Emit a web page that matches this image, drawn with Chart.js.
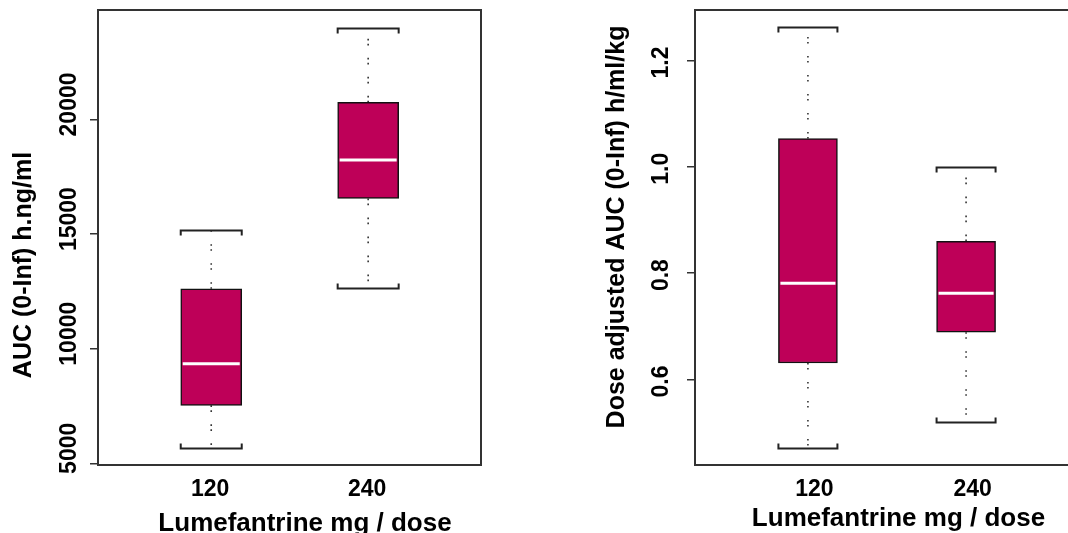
<!DOCTYPE html>
<html><head><meta charset="utf-8">
<script src="https://cdn.jsdelivr.net/npm/chart.js@4"></script>
<style>
html,body{margin:0;padding:0;background:#fff;overflow:hidden;width:1068px;height:533px;position:relative;}
canvas{position:absolute;top:0;}
#c1{left:0px;}
#c2{left:534px;}
</style></head><body>
<canvas id="c1" width="534" height="533"></canvas>
<canvas id="c2" width="560" height="533"></canvas>
<script>
// ---- data ----
const categories = ['120', '240'];

// Left panel: AUC (0-Inf) h.ng/ml
const aucMin    = [5668, 12657];
const aucQ1     = [7528, 16551];
const aucMedian = [9339, 18232];
const aucQ3     = [12613, 20746];
const aucMax    = [15185, 24003];
const aucTicks  = [5000, 10000, 15000, 20000];
const aucTickLabels = ['5000', '10000', '15000', '20000'];

// Right panel: Dose adjusted AUC (0-Inf) h/ml/kg
const adjMin    = [0.471, 0.520];
const adjQ1     = [0.631, 0.689];
const adjMedian = [0.781, 0.762];
const adjQ3     = [1.053, 0.860];
const adjMax    = [1.262, 1.000];
const adjTicks  = [0.6, 0.8, 1.0, 1.2];
const adjTickLabels = ['0.6', '0.8', '1.0', '1.2'];

const xTitle = 'Lumefantrine mg / dose';
const FONT = "'Liberation Sans', Arial, sans-serif";

const boxPlugin = {
  id: 'boxExtras',
  beforeDatasetsDraw(chart, args, o) {
    const {ctx, scales: {x, y}} = chart;
    const half = o.boxWidth / 2;
    ctx.save();
    o.min.forEach((mn, i) => {
      const xc = x.getPixelForValue(i + 1);
      ctx.strokeStyle = '#333';
      ctx.lineWidth = 1.6;
      ctx.setLineDash([1.6, 3.4, 1.6, 12.4]);
      ctx.beginPath();
      ctx.moveTo(xc, y.getPixelForValue(o.q3[i]));
      ctx.lineTo(xc, y.getPixelForValue(o.max[i]));
      ctx.stroke();
      ctx.beginPath();
      ctx.moveTo(xc, y.getPixelForValue(o.q1[i]));
      ctx.lineTo(xc, y.getPixelForValue(mn));
      ctx.stroke();
      ctx.setLineDash([]);
      const yt = Math.round(y.getPixelForValue(o.max[i])) + 0.5;
      const yb = Math.round(y.getPixelForValue(mn)) + 0.5;
      ctx.strokeStyle = '#222';
      ctx.lineWidth = 2;
      ctx.beginPath();
      ctx.moveTo(xc - half, yt + 5); ctx.lineTo(xc - half, yt); ctx.lineTo(xc + half, yt); ctx.lineTo(xc + half, yt + 5);
      ctx.moveTo(xc - half, yb - 5); ctx.lineTo(xc - half, yb); ctx.lineTo(xc + half, yb); ctx.lineTo(xc + half, yb - 5);
      ctx.stroke();
    });
    ctx.restore();
  },
  afterDatasetsDraw(chart, args, o) {
    const {ctx, scales: {x, y}} = chart;
    const half = o.boxWidth / 2;
    ctx.save();
    ctx.strokeStyle = '#ffffff';
    ctx.lineWidth = 3;
    o.median.forEach((md, i) => {
      const xc = x.getPixelForValue(i + 1);
      const ym = y.getPixelForValue(md);
      ctx.beginPath();
      ctx.moveTo(xc - half + 2, ym);
      ctx.lineTo(xc + half - 2, ym);
      ctx.stroke();
    });
    ctx.restore();
  },
  afterDraw(chart, args, o) {
    const {ctx, chartArea: a, scales: {x, y}} = chart;
    ctx.save();
    // frame
    ctx.strokeStyle = '#333';
    ctx.lineWidth = 2;
    ctx.strokeRect(a.left, a.top, a.right - a.left, a.bottom - a.top);
    // y tick labels (rotated)
    ctx.fillStyle = '#000';
    ctx.font = 'bold 23px ' + FONT;
    ctx.textAlign = 'center';
    ctx.textBaseline = 'middle';
    y.ticks.forEach((t, i) => {
      const py = y.getPixelForValue(t.value) + o.yLabelShift;
      ctx.save();
      ctx.translate(o.yLabelX, py);
      ctx.rotate(-Math.PI / 2);
      ctx.fillText(o.yTickLabels[i], 0, 0);
      ctx.restore();
    });
    // x tick labels
    ctx.textBaseline = 'alphabetic';
    categories.forEach((c, i) => {
      ctx.fillText(c, x.getPixelForValue(i + 1) + o.xLabelShift, o.xLabelBaseline);
    });
    // axis titles
    ctx.font = 'bold 26px ' + FONT;
    ctx.fillText(xTitle, o.xTitleX, o.xTitleBaseline);
    ctx.font = 'bold 25px ' + FONT;
    ctx.textBaseline = 'middle';
    ctx.save();
    ctx.translate(o.yTitleX, o.yTitleY);
    ctx.rotate(-Math.PI / 2);
    ctx.fillText(o.yTitle, 0, 0);
    ctx.restore();
    ctx.restore();
  }
};

function makePanel(id, p) {
  const data = categories.map((c, i) => ({x: i + 1, y: [p.q1[i], p.q3[i]]}));
  return new Chart(document.getElementById(id), {
    type: 'bar',
    data: {
      datasets: [{
        data: data,
        backgroundColor: '#BE0058',
        borderColor: '#111',
        borderWidth: 1.5,
        borderSkipped: false,
        barThickness: p.boxWidth
      }]
    },
    options: {
      responsive: false,
      animation: false,
      devicePixelRatio: 1,
      layout: {padding: {top: 10, right: p.padRight, left: 0, bottom: 0}},
      plugins: {
        legend: {display: false},
        tooltip: {enabled: false},
        boxExtras: p
      },
      scales: {
        x: {
          type: 'linear',
          offset: false,
          min: p.xMin, max: p.xMax,
          grid: {display: false, offset: false},
          border: {display: false},
          ticks: {display: false},
          afterFit(s) { s.height = p.xAxisHeight; }
        },
        y: {
          type: 'linear',
          min: p.yMin, max: p.yMax,
          afterBuildTicks(s) { s.ticks = p.yTicks.map(v => ({value: v})); },
          grid: {display: true, drawOnChartArea: false, drawTicks: true, tickLength: 8, color: '#333', lineWidth: 1.5},
          border: {display: false},
          ticks: {display: false},
          afterFit(s) { s.width = p.yAxisWidth; }
        }
      }
    },
    plugins: [boxPlugin]
  });
}

makePanel('c1', {
  min: aucMin, q1: aucQ1, median: aucMedian, q3: aucQ3, max: aucMax,
  yTicks: aucTicks, yTickLabels: aucTickLabels,
  yMin: 4926, yMax: 24776, xMin: 0.2785, xMax: 2.719,
  boxWidth: 61, padRight: 53, yAxisWidth: 98, xAxisHeight: 68,
  yLabelX: 70, yLabelShift: -15,
  xLabelShift: -1, xLabelBaseline: 496,
  xTitleX: 305, xTitleBaseline: 531,
  yTitle: 'AUC (0-Inf) h.ng/ml', yTitleX: 24, yTitleY: 265
});

makePanel('c2', {
  min: adjMin, q1: adjQ1, median: adjMedian, q3: adjQ3, max: adjMax,
  yTicks: adjTicks, yTickLabels: adjTickLabels,
  yMin: 0.4391, yMax: 1.2949, xMin: 0.286, xMax: 2.714,
  boxWidth: 59, padRight: 15, yAxisWidth: 161, xAxisHeight: 68,
  yLabelX: 128, yLabelShift: 2,
  xLabelShift: 6.5, xLabelBaseline: 496,
  xTitleX: 364.5, xTitleBaseline: 526,
  yTitle: 'Dose adjusted AUC (0-Inf) h/ml/kg', yTitleX: 83, yTitleY: 227
});
</script>
</body></html>
